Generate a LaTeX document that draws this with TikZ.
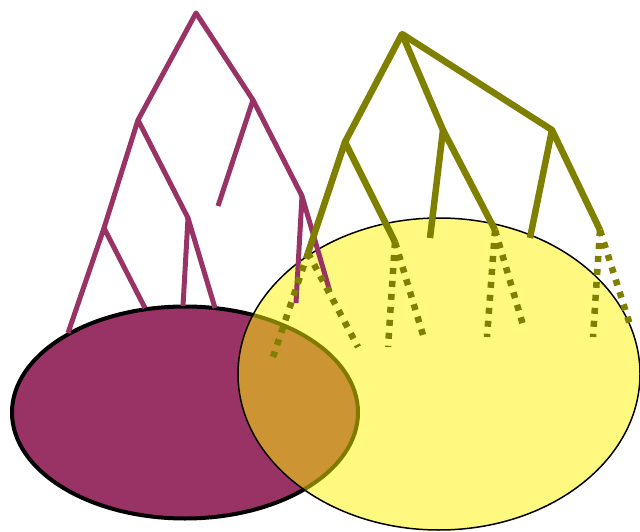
\documentclass[tikz,border=0pt]{standalone}
\definecolor{plum}{RGB}{153,51,102}
\definecolor{oliv}{RGB}{128,128,0}
\definecolor{yel}{RGB}{255,245,0}
\tikzset{
  ptree/.style={draw=plum,line width=5pt,line join=round},
  otree/.style={draw=oliv,line width=6.5pt,line join=round},
  odots/.style={draw=oliv,line width=6.5pt,dash pattern=on 6pt off 7pt},
  pell/.style={draw=black,line width=4pt,fill=plum},
  yell/.style={draw=black,line width=1.5pt,fill=yel,fill opacity=0.5}
}
\begin{document}
\begin{tikzpicture}[x=1pt,y=-1pt]
\useasboundingbox (0,0) rectangle (640,532);
% ellipses
\coordinate (pc) at (185,412.5);
\coordinate (yc) at (439,374);
\path[pell] (pc) ellipse [x radius=173, y radius=106];
\path[yell] (yc) ellipse [x radius=201, y radius=156];
% purple tree
\coordinate (p0) at (196,13);
\coordinate (p1) at (138,120);
\coordinate (p2) at (253,100);
\coordinate (p3) at (104,228);
\coordinate (p4) at (188,218);
\coordinate (p5) at (218,206);
\coordinate (p6) at (302,196);
\coordinate (pl1) at (68,333);
\coordinate (pl2) at (145,308);
\coordinate (pl3) at (183,306);
\coordinate (pl4) at (215,308);
\coordinate (pl5) at (296,303);
\coordinate (pl6) at (330,292);
\draw[ptree] (p1) -- (p0) -- (p2);
\draw[ptree] (p3) -- (p1) -- (p4);
\draw[ptree] (p5) -- (p2) -- (p6);
\draw[ptree] (pl1) -- (p3) -- (pl2);
\draw[ptree] (pl3) -- (p4) -- (pl4);
\draw[ptree] (pl5) -- (p6) -- (pl6);
% olive tree
\coordinate (o0) at (402,34);
\coordinate (o1) at (345,142);
\coordinate (o2) at (443,130);
\coordinate (o3) at (552,130);
\coordinate (o4) at (308,253);
\coordinate (o5) at (395,242);
\coordinate (o6) at (430,238);
\coordinate (o7) at (495,230);
\coordinate (o8) at (530,238);
\coordinate (o9) at (600,230);
\draw[otree] (o1) -- (o0) -- (o2);
\draw[otree] (o0) -- (o3);
\draw[otree] (o4) -- (o1) -- (o5);
\draw[otree] (o6) -- (o2) -- (o7);
\draw[otree] (o8) -- (o3) -- (o9);
% dotted continuations
\coordinate (d1) at (273,357);
\coordinate (d2) at (358,347);
\coordinate (d3) at (388,347);
\coordinate (d4) at (423,335);
\coordinate (d5) at (487,337);
\coordinate (d6) at (523,325);
\coordinate (d7) at (593,337);
\coordinate (d8) at (630,325);
\draw[odots] (o4) -- (d1);
\draw[odots] (o4) -- (d2);
\draw[odots] (o5) -- (d3);
\draw[odots] (o5) -- (d4);
\draw[odots] (o7) -- (d5);
\draw[odots] (o7) -- (d6);
\draw[odots] (o9) -- (d7);
\draw[odots] (o9) -- (d8);
\end{tikzpicture}
\end{document}
